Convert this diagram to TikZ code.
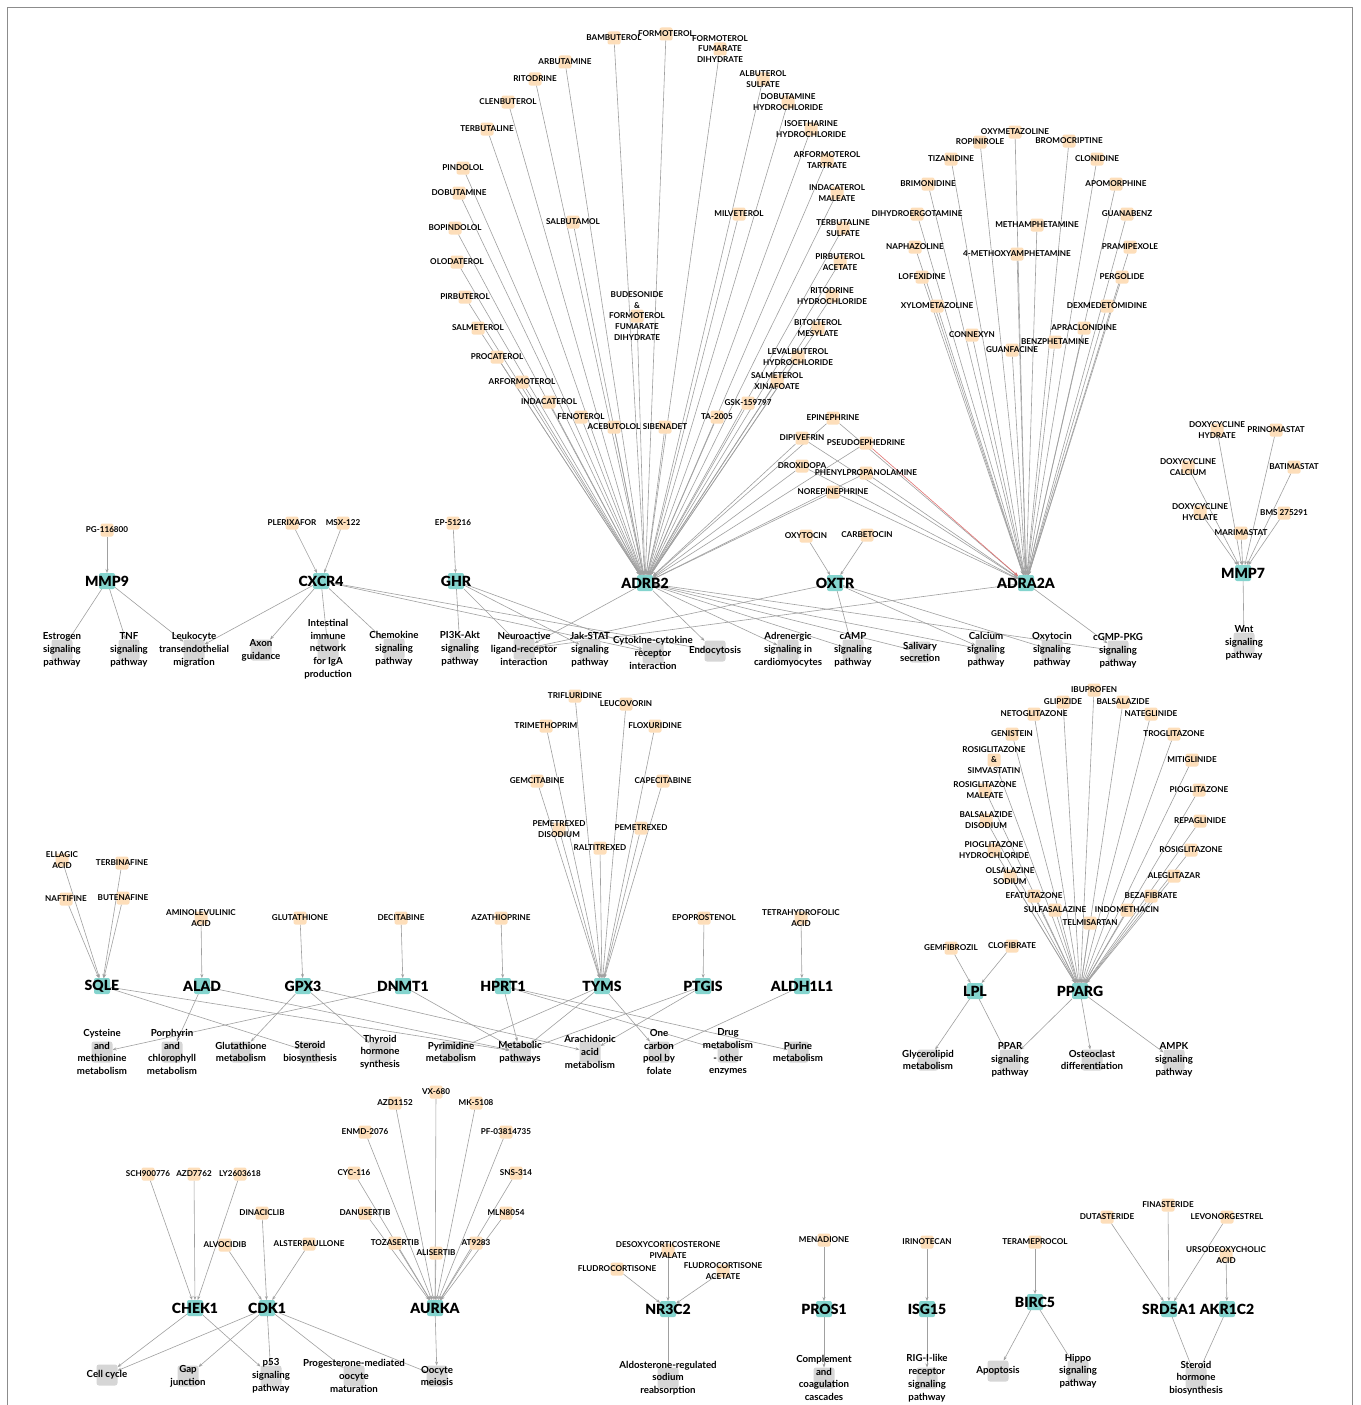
\documentclass[tikz,border=0pt]{standalone}
\usepackage{fontspec}
\setmainfont{Lato}
\newfontfamily\heavyfont{Lato Black}
\usetikzlibrary{arrows.meta,backgrounds}
\pgfdeclarelayer{bottomlayer}
\pgfsetlayers{bottomlayer,background,main}
\definecolor{drugc}{RGB}{253,222,186}
\definecolor{genec}{RGB}{132,212,206}
\definecolor{pwc}{RGB}{214,214,214}
\definecolor{edgec}{RGB}{160,160,160}
\definecolor{redc}{RGB}{226,110,110}
\newcommand\dfont{\fontsize{8.1}{10.6}\selectfont\bfseries}
\newcommand\gfont{\fontsize{14}{16}\selectfont\heavyfont}
\newcommand\pfont{\fontsize{9.7}{12.8}\selectfont\bfseries}
\tikzset{
 drugsq/.style={fill=drugc, rounded corners=2pt, minimum size=13pt, inner sep=0pt, outer sep=0pt},
 genesq/.style={fill=genec, rounded corners=2pt, minimum size=16pt, inner sep=0pt, outer sep=0pt},
 pwsq/.style={fill=pwc, rounded corners=2.5pt, minimum size=21pt, inner sep=0pt, outer sep=0pt},
 dlab/.style={font=\dfont, align=center, inner sep=0pt, text=black},
 glab/.style={font=\gfont, inner sep=0pt, text=black},
 plab/.style={font=\pfont, align=center, inner sep=0pt, text=black},
 lnk/.style={draw=edgec, line width=0.6pt, -{Stealth[length=4pt,width=3pt]}},
 redlnk/.style={lnk, draw=redc},
 frame/.style={draw=black!45, line width=0.6pt}
}
\newcommand\DRG[4]{\node[drugsq,label={[dlab]center:{#4}}] (#1) at (#2,#3) {};}
\newcommand\GEN[4]{\node[genesq,label={[glab]center:{#4}}] (#1) at (#2,#3) {};}
\newcommand\PWY[4]{\node[pwsq,label={[plab]center:{#4}}] (#1) at (#2,#3) {};}
\begin{document}
\begin{tikzpicture}[x=1pt,y=-1pt]
\useasboundingbox (0,0) rectangle (1360,1405);
\begin{pgfonlayer}{bottomlayer}
\fill[white] (0,0) rectangle (1360,1405);
\draw[frame] (7.5,1410) -- (7.5,7.5) -- (1352.5,7.5) -- (1352.5,1410);
\end{pgfonlayer}
% ---------- genes ----------
\GEN{adrb2}{645}{583}{ADRB2}
\GEN{oxtr}{835}{583}{OXTR}
\GEN{adra2a}{1026}{583}{ADRA2A}
\GEN{mmp7}{1243}{573}{MMP7}
\GEN{mmp9}{107}{581}{MMP9}
\GEN{cxcr4}{321}{581}{CXCR4}
\GEN{ghr}{456}{581}{GHR}
\GEN{sqle}{102}{986}{SQLE}
\GEN{alad}{202}{986}{ALAD}
\GEN{gpx3}{303}{986}{GPX3}
\GEN{dnmt1}{403}{986}{DNMT1}
\GEN{hprt1}{503}{986}{HPRT1}
\GEN{tyms}{602}{986}{TYMS}
\GEN{ptgis}{703}{986}{PTGIS}
\GEN{aldh}{802}{986}{ALDH1L1}
\GEN{lpl}{975}{991}{LPL}
\GEN{pparg}{1080}{991}{PPARG}
\GEN{chek1}{195}{1308}{CHEK1}
\GEN{cdk1}{267}{1308}{CDK1}
\GEN{aurka}{435}{1308}{AURKA}
\GEN{nr3c2}{668}{1309}{NR3C2}
\GEN{pros1}{824}{1309}{PROS1}
\GEN{isg15}{927}{1309}{ISG15}
\GEN{birc5}{1035}{1302}{BIRC5}
\GEN{srd5a1}{1169}{1309}{SRD5A1}
\GEN{akr1c2}{1227}{1309}{AKR1C2}
% ---------- ADRB2 drugs ----------
\DRG{d1}{614}{38}{BAMBUTEROL}
\DRG{d2}{666}{34}{FORMOTEROL}
\DRG{d3}{720}{49}{FORMOTEROL\\FUMARATE\\DIHYDRATE}
\DRG{d4}{565}{62}{ARBUTAMINE}
\DRG{d5}{535}{79}{RITODRINE}
\DRG{d6}{508}{102}{CLENBUTEROL}
\DRG{d7}{487}{129}{TERBUTALINE}
\DRG{d8}{463}{168}{PINDOLOL}
\DRG{d9}{459}{193}{DOBUTAMINE}
\DRG{d10}{455}{228}{BOPINDOLOL}
\DRG{d11}{457}{262}{OLODATEROL}
\DRG{d12}{465}{297}{PIRBUTEROL}
\DRG{d13}{478}{328}{SALMETEROL}
\DRG{d14}{497}{357}{PROCATEROL}
\DRG{d15}{522}{382}{ARFORMOTEROL}
\DRG{d16}{549}{402}{INDACATEROL}
\DRG{d17}{581}{417}{FENOTEROL}
\DRG{d18}{614}{427}{ACEBUTOLOL}
\DRG{d19}{665}{427}{SIBENADET}
\DRG{d20}{573}{222}{SALBUTAMOL}
\DRG{d21}{637}{316}{BUDESONIDE\\\&\\FORMOTEROL\\FUMARATE\\DIHYDRATE}
\DRG{d22}{717}{417}{TA-2005}
\DRG{d23}{748}{403}{GSK-159797}
\DRG{d24}{777}{381}{SALMETEROL\\XINAFOATE}
\DRG{d25}{798}{357}{LEVALBUTEROL\\HYDROCHLORIDE}
\DRG{d26}{818}{328}{BITOLTEROL\\MESYLATE}
\DRG{d27}{832}{296}{RITODRINE\\HYDROCHLORIDE}
\DRG{d28}{840}{262}{PIRBUTEROL\\ACETATE}
\DRG{d29}{843}{228}{TERBUTALINE\\SULFATE}
\DRG{d30}{837}{193}{INDACATEROL\\MALEATE}
\DRG{d31}{827}{160}{ARFORMOTEROL\\TARTRATE}
\DRG{d32}{811}{129}{ISOETHARINE\\HYDROCHLORIDE}
\DRG{d33}{788}{102}{DOBUTAMINE\\HYDROCHLORIDE}
\DRG{d34}{763}{79}{ALBUTEROL\\SULFATE}
\DRG{d35}{739}{214}{MILVETEROL}
% shared
\DRG{s1}{833}{418}{EPINEPHRINE}
\DRG{s2}{802}{438}{DIPIVEFRIN}
\DRG{s3}{866}{443}{PSEUDOEPHEDRINE}
\DRG{s4}{802}{466}{DROXIDOPA}
\DRG{s5}{866}{473}{PHENYLPROPANOLAMINE}
\DRG{s6}{833}{492}{NOREPINEPHRINE}
% ---------- ADRA2A drugs ----------
\DRG{a1}{1015}{132}{OXYMETAZOLINE}
\DRG{a2}{980}{142}{ROPINIROLE}
\DRG{a3}{1069}{141}{BROMOCRIPTINE}
\DRG{a4}{951}{159}{TIZANIDINE}
\DRG{a5}{1097}{159}{CLONIDINE}
\DRG{a6}{928}{184}{BRIMONIDINE}
\DRG{a7}{1116}{184}{APOMORPHINE}
\DRG{a8}{917}{214}{DIHYDROERGOTAMINE}
\DRG{a9}{1127}{214}{GUANABENZ}
\DRG{a10}{1037}{225}{METHAMPHETAMINE}
\DRG{a11}{915}{247}{NAPHAZOLINE}
\DRG{a12}{1017}{254}{4-METHOXYAMPHETAMINE}
\DRG{a13}{1130}{247}{PRAMIPEXOLE}
\DRG{a14}{922}{277}{LOFEXIDINE}
\DRG{a15}{1122}{277}{PERGOLIDE}
\DRG{a16}{937}{306}{XYLOMETAZOLINE}
\DRG{a17}{1107}{306}{DEXMEDETOMIDINE}
\DRG{a18}{972}{335}{CONNEXYN}
\DRG{a19}{1084}{328}{APRACLONIDINE}
\DRG{a20}{1055}{342}{BENZPHETAMINE}
\DRG{a21}{1012}{350}{GUANFACINE}
% ---------- MMP7 drugs ----------
\DRG{m1}{1217}{430}{DOXYCYCLINE\\HYDRATE}
\DRG{m2}{1276}{430}{PRINOMASTAT}
\DRG{m3}{1188}{467}{DOXYCYCLINE\\CALCIUM}
\DRG{m4}{1294}{467}{BATIMASTAT}
\DRG{m5}{1200}{512}{DOXYCYCLINE\\HYCLATE}
\DRG{m6}{1284}{513}{BMS 275291}
\DRG{m7}{1241}{533}{MARIMASTAT}
% ---------- row 1 other drugs ----------
\DRG{pg}{107}{530}{PG-116800}
\DRG{plx}{292}{523}{PLERIXAFOR}
\DRG{msx}{343}{523}{MSX-122}
\DRG{ep}{453}{523}{EP-51216}
\DRG{ox1}{806}{536}{OXYTOCIN}
\DRG{ox2}{867}{535}{CARBETOCIN}
% ---------- row 1 pathways ----------
\PWY{estrogen}{62}{650}{Estrogen\\signaling\\pathway}
\PWY{tnf}{129}{650}{TNF\\signaling\\pathway}
\PWY{leuko}{194}{650}{Leukocyte\\transendothelial\\migration}
\PWY{axon}{261}{650}{Axon\\guidance}
\PWY{intest}{328}{649}{Intestinal\\immune\\network\\for IgA\\production}
\PWY{chemo}{394}{649}{Chemokine\\signaling\\pathway}
\PWY{pi3k}{460}{649}{PI3K-Akt\\signaling\\pathway}
\PWY{neuro}{524}{649}{Neuroactive\\ligand-receptor\\interaction}
\PWY{jak}{590}{650}{Jak-STAT\\signaling\\pathway}
\PWY{cytok}{653}{653}{Cytokine-cytokine\\receptor\\interaction}
\PWY{endo}{715}{651}{Endocytosis}
\PWY{adren}{788}{650}{Adrenergic\\signaling in\\cardiomyocytes}
\PWY{camp}{853}{650}{cAMP\\signaling\\pathway}
\PWY{saliv}{920}{652}{Salivary\\secretion}
\PWY{calc}{986}{650}{Calcium\\signaling\\pathway}
\PWY{oxyt}{1052}{650}{Oxytocin\\signaling\\pathway}
\PWY{cgmp}{1118}{651}{cGMP-PKG\\signaling\\pathway}
\PWY{wnt}{1244}{643}{Wnt\\signaling\\pathway}
% ---------- row 2 drugs ----------
\DRG{ellag}{62}{860}{ELLAGIC\\ACID}
\DRG{terb}{122}{863}{TERBINAFINE}
\DRG{naft}{66}{899}{NAFTIFINE}
\DRG{bute}{123}{898}{BUTENAFINE}
\DRG{ala}{201}{918}{AMINOLEVULINIC\\ACID}
\DRG{gsh}{300}{918}{GLUTATHIONE}
\DRG{dec}{401}{918}{DECITABINE}
\DRG{aza}{501}{918}{AZATHIOPRINE}
\DRG{epo}{704}{918}{EPOPROSTENOL}
\DRG{thf}{801}{918}{TETRAHYDROFOLIC\\ACID}
\DRG{t1}{575}{696}{TRIFLURIDINE}
\DRG{t2}{626}{704}{LEUCOVORIN}
\DRG{t3}{546}{726}{TRIMETHOPRIM}
\DRG{t4}{655}{726}{FLOXURIDINE}
\DRG{t5}{537}{781}{GEMCITABINE}
\DRG{t6}{663}{781}{CAPECITABINE}
\DRG{t7}{559}{829}{PEMETREXED\\DISODIUM}
\DRG{t8}{641}{828}{PEMETREXED}
\DRG{t9}{600}{848}{RALTITREXED}
% ---------- row 2 pathways ----------
\PWY{cyst}{102}{1052}{Cysteine\\and\\methionine\\metabolism}
\PWY{porph}{172}{1052}{Porphyrin\\and\\chlorophyll\\metabolism}
\PWY{gluta}{241}{1052}{Glutathione\\metabolism}
\PWY{sterb}{310}{1052}{Steroid\\biosynthesis}
\PWY{thyr}{380}{1052}{Thyroid\\hormone\\synthesis}
\PWY{pyrim}{451}{1052}{Pyrimidine\\metabolism}
\PWY{metab}{520}{1052}{Metabolic\\pathways}
\PWY{arach}{590}{1052}{Arachidonic\\acid\\metabolism}
\PWY{onec}{659}{1052}{One\\carbon\\pool by\\folate}
\PWY{drugm}{728}{1052}{Drug\\metabolism\\- other\\enzymes}
\PWY{purine}{798}{1052}{Purine\\metabolism}
% ---------- PPARG / LPL ----------
\DRG{p1}{1094}{690}{IBUPROFEN}
\DRG{p2}{1063}{702}{GLIPIZIDE}
\DRG{p3}{1123}{702}{BALSALAZIDE}
\DRG{p4}{1034}{714}{NETOGLITAZONE}
\DRG{p5}{1151}{714}{NATEGLINIDE}
\DRG{p6}{1012}{734}{GENISTEIN}
\DRG{p7}{1174}{734}{TROGLITAZONE}
\DRG{p8}{994}{760}{ROSIGLITAZONE\\\&\\SIMVASTATIN}
\DRG{p9}{1192}{760}{MITIGLINIDE}
\DRG{p10}{985}{790}{ROSIGLITAZONE\\MALEATE}
\DRG{p11}{1199}{790}{PIOGLITAZONE}
\DRG{p12}{986}{820}{BALSALAZIDE\\DISODIUM}
\DRG{p13}{1200}{821}{REPAGLINIDE}
\DRG{p14}{994}{850}{PIOGLITAZONE\\HYDROCHLORIDE}
\DRG{p15}{1191}{850}{ROSIGLITAZONE}
\DRG{p16}{1010}{876}{OLSALAZINE\\SODIUM}
\DRG{p17}{1174}{876}{ALEGLITAZAR}
\DRG{p18}{1034}{896}{EFATUTAZONE}
\DRG{p19}{1151}{896}{BEZAFIBRATE}
\DRG{p20}{1055}{910}{SULFASALAZINE}
\DRG{p21}{1127}{910}{INDOMETHACIN}
\DRG{p22}{1090}{923}{TELMISARTAN}
\DRG{gem}{951}{948}{GEMFIBROZIL}
\DRG{clo}{1012}{946}{CLOFIBRATE}
\PWY{glyc}{928}{1060}{Glycerolipid\\metabolism}
\PWY{ppar}{1010}{1060}{PPAR\\signaling\\pathway}
\PWY{osteo}{1092}{1060}{Osteoclast\\differentiation}
\PWY{ampk}{1174}{1060}{AMPK\\signaling\\pathway}
% ---------- bottom drugs ----------
\DRG{sch}{148}{1174}{SCH900776}
\DRG{azd}{194}{1174}{AZD7762}
\DRG{ly}{240}{1174}{LY2603618}
\DRG{dina}{262}{1213}{DINACICLIB}
\DRG{alvo}{225}{1245}{ALVOCIDIB}
\DRG{alst}{309}{1244}{ALSTERPAULLONE}
\DRG{k1}{436}{1092}{VX-680}
\DRG{k2}{395}{1103}{AZD1152}
\DRG{k3}{476}{1103}{MK-5108}
\DRG{k4}{365}{1132}{ENMD-2076}
\DRG{k5}{506}{1132}{PF-03814735}
\DRG{k6}{354}{1173}{CYC-116}
\DRG{k7}{516}{1173}{SNS-314}
\DRG{k8}{365}{1213}{DANUSERTIB}
\DRG{k9}{506}{1213}{MLN8054}
\DRG{k10}{395}{1243}{TOZASERTIB}
\DRG{k11}{476}{1243}{AT9283}
\DRG{k12}{436}{1253}{ALISERTIB}
\DRG{desoxy}{668}{1250}{DESOXYCORTICOSTERONE\\PIVALATE}
\DRG{fludro}{617}{1269}{FLUDROCORTISONE}
\DRG{fludac}{723}{1271}{FLUDROCORTISONE\\ACETATE}
\DRG{mena}{824}{1240}{MENADIONE}
\DRG{irino}{927}{1242}{IRINOTECAN}
\DRG{tera}{1035}{1242}{TERAMEPROCOL}
\DRG{duta}{1107}{1217}{DUTASTERIDE}
\DRG{fina}{1168}{1205}{FINASTERIDE}
\DRG{levo}{1227}{1217}{LEVONORGESTREL}
\DRG{urso}{1226}{1255}{URSODEOXYCHOLIC\\ACID}
% ---------- bottom pathways ----------
\PWY{cellc}{107}{1375}{Cell cycle}
\PWY{gap}{188}{1376}{Gap\\junction}
\PWY{p53}{271}{1376}{p53\\signaling\\pathway}
\PWY{prog}{354}{1376}{Progesterone-mediated\\oocyte\\maturation}
\PWY{oocy}{437}{1376}{Oocyte\\meiosis}
\PWY{aldo}{668}{1378}{Aldosterone-regulated\\sodium\\reabsorption}
\PWY{compl}{824}{1378}{Complement\\and\\coagulation\\cascades}
\PWY{rig}{927}{1378}{RIG-I-like\\receptor\\signaling\\pathway}
\PWY{apop}{998}{1371}{Apoptosis}
\PWY{hippo}{1078}{1371}{Hippo\\signaling\\pathway}
\PWY{sth}{1196}{1378}{Steroid\\hormone\\biosynthesis}
% ---------- edges ----------
\begin{pgfonlayer}{background}
\foreach \i in {1,...,35} \draw[lnk] (d\i) -- (adrb2);
\foreach \i in {1,...,6} \draw[lnk] (s\i) -- (adrb2);
\foreach \i in {1,...,21} \draw[lnk] (a\i) -- (adra2a);
\foreach \i in {1,2,4,5,6} \draw[lnk] (s\i) -- (adra2a);
\draw[redlnk] (s3) -- (adra2a);
\foreach \s in {ox1,ox2} \draw[lnk] (\s) -- (oxtr);
\foreach \i in {1,...,7} \draw[lnk] (m\i) -- (mmp7);
\draw[lnk] (mmp7) -- (wnt);
\draw[lnk] (pg) -- (mmp9);
\foreach \t in {estrogen,tnf,leuko} \draw[lnk] (mmp9) -- (\t);
\foreach \s in {plx,msx} \draw[lnk] (\s) -- (cxcr4);
\foreach \t in {leuko,axon,intest,chemo,cytok,endo} \draw[lnk] (cxcr4) -- (\t);
\draw[lnk] (ep) -- (ghr);
\foreach \t in {pi3k,neuro,jak,cytok} \draw[lnk] (ghr) -- (\t);
\foreach \t in {neuro,endo,adren,camp,saliv,calc,cgmp} \draw[lnk] (adrb2) -- (\t);
\foreach \t in {neuro,camp,calc,oxyt} \draw[lnk] (oxtr) -- (\t);
\foreach \t in {neuro,cgmp} \draw[lnk] (adra2a) -- (\t);
\foreach \s in {ellag,terb,naft,bute} \draw[lnk] (\s) -- (sqle);
\draw[lnk] (ala) -- (alad);
\draw[lnk] (gsh) -- (gpx3);
\draw[lnk] (dec) -- (dnmt1);
\draw[lnk] (aza) -- (hprt1);
\draw[lnk] (epo) -- (ptgis);
\draw[lnk] (thf) -- (aldh);
\foreach \i in {1,...,9} \draw[lnk] (t\i) -- (tyms);
\foreach \t in {sterb,metab} \draw[lnk] (sqle) -- (\t);
\foreach \t in {porph,metab} \draw[lnk] (alad) -- (\t);
\foreach \t in {gluta,thyr,arach} \draw[lnk] (gpx3) -- (\t);
\foreach \t in {cyst,metab} \draw[lnk] (dnmt1) -- (\t);
\foreach \t in {metab,drugm,purine} \draw[lnk] (hprt1) -- (\t);
\foreach \t in {pyrim,metab,onec} \draw[lnk] (tyms) -- (\t);
\foreach \t in {arach,metab} \draw[lnk] (ptgis) -- (\t);
\draw[lnk] (aldh) -- (onec);
\foreach \i in {1,...,22} \draw[lnk] (p\i) -- (pparg);
\foreach \s in {gem,clo} \draw[lnk] (\s) -- (lpl);
\foreach \t in {glyc,ppar} \draw[lnk] (lpl) -- (\t);
\foreach \t in {ppar,osteo,ampk} \draw[lnk] (pparg) -- (\t);
\foreach \s in {sch,azd,ly} \draw[lnk] (\s) -- (chek1);
\foreach \s in {dina,alvo,alst} \draw[lnk] (\s) -- (cdk1);
\foreach \i in {1,...,12} \draw[lnk] (k\i) -- (aurka);
\foreach \t in {cellc,p53} \draw[lnk] (chek1) -- (\t);
\foreach \t in {cellc,gap,p53,prog,oocy} \draw[lnk] (cdk1) -- (\t);
\draw[lnk] (aurka) -- (oocy);
\foreach \s in {desoxy,fludro,fludac} \draw[lnk] (\s) -- (nr3c2);
\draw[lnk] (nr3c2) -- (aldo);
\draw[lnk] (mena) -- (pros1);
\draw[lnk] (pros1) -- (compl);
\draw[lnk] (irino) -- (isg15);
\draw[lnk] (isg15) -- (rig);
\draw[lnk] (tera) -- (birc5);
\foreach \t in {apop,hippo} \draw[lnk] (birc5) -- (\t);
\foreach \s in {duta,fina,levo} \draw[lnk] (\s) -- (srd5a1);
\draw[lnk] (urso) -- (akr1c2);
\foreach \s in {srd5a1,akr1c2} \draw[lnk] (\s) -- (sth);
\end{pgfonlayer}
\end{tikzpicture}
\end{document}
